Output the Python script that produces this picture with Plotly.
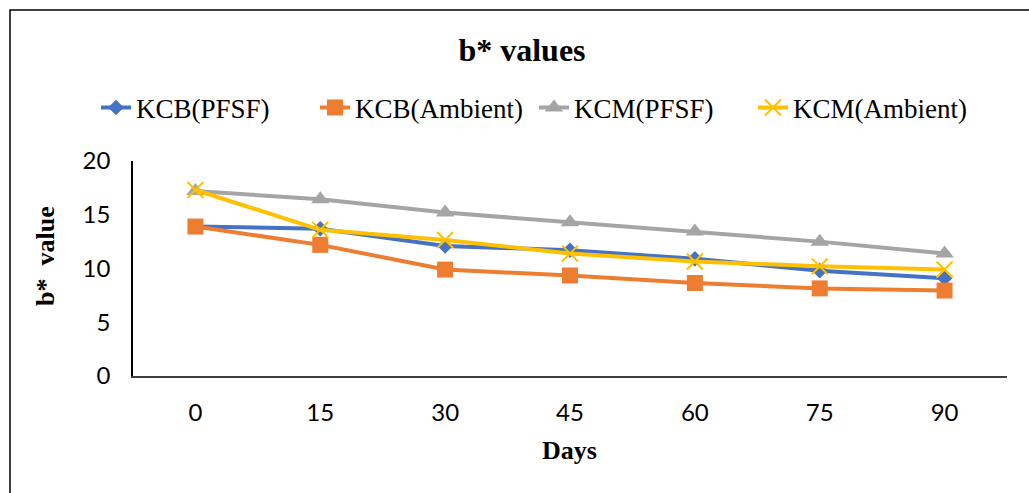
import plotly.graph_objects as go

days = [0, 15, 30, 45, 60, 75, 90]
kcb_pfsf = [13.9, 13.7, 12.1, 11.7, 10.9, 9.8, 9.1]
kcb_ambient = [13.9, 12.2, 9.9, 9.35, 8.65, 8.15, 7.95]
kcm_pfsf = [17.2, 16.45, 15.2, 14.3, 13.45, 12.5, 11.4]
kcm_ambient = [17.3, 13.6, 12.65, 11.4, 10.65, 10.2, 9.9]

series_names = ["KCB(PFSF)", "KCB(Ambient)", "KCM(PFSF)", "KCM(Ambient)"]
colors = ["#4472C4", "#ED7D31", "#A5A5A5", "#FFC000"]

W, H = 1029, 493
L, R, T, B = 133, 22, 161, 117
PW, PH = W - L - R, H - T - B

fig = go.Figure()
fig.add_trace(go.Scatter(x=days, y=kcb_pfsf, name=series_names[0], mode="lines+markers",
                         line=dict(color=colors[0], width=4),
                         marker=dict(symbol="diamond", size=12, color=colors[0])))
fig.add_trace(go.Scatter(x=days, y=kcb_ambient, name=series_names[1], mode="lines+markers",
                         line=dict(color=colors[1], width=4),
                         marker=dict(symbol="square", size=16, color=colors[1])))
fig.add_trace(go.Scatter(x=days, y=kcm_pfsf, name=series_names[2], mode="lines+markers",
                         line=dict(color=colors[2], width=4),
                         marker=dict(symbol="triangle-up", size=16, color=colors[2])))
fig.add_trace(go.Scatter(x=days, y=kcm_ambient, name=series_names[3], mode="lines+markers",
                         line=dict(color=colors[3], width=4),
                         marker=dict(symbol="x-thin-open", size=16, color=colors[3],
                                     line=dict(color=colors[3], width=2))))

tick_font = dict(family="Lato", size=24, color="black")
fig.update_layout(
    width=W, height=H,
    margin=dict(l=L, r=R, t=T, b=B),
    paper_bgcolor="white", plot_bgcolor="white",
    title=dict(text="<b>b* values</b>", x=522 / W, xref="container", xanchor="center",
               y=1 - 50 / H, yref="container", yanchor="middle",
               font=dict(family="Liberation Serif", size=32, color="black")),
    legend=dict(orientation="h", x=(96 - L) / PW, xanchor="left",
                y=(H - B - 108) / PH, yanchor="middle",
                font=dict(family="Liberation Serif", size=27, color="black"),
                entrywidth=174, entrywidthmode="pixels",
                bgcolor="rgba(0,0,0,0)"),
    showlegend=True,
)
fig.update_xaxes(range=[-7.5, 97.5], tickvals=days, ticktext=[str(d) for d in days],
                 showgrid=False, zeroline=False, showline=True, linecolor="#404040", linewidth=1.5,
                 ticks="", tickfont=tick_font, ticklabelstandoff=14)
fig.update_yaxes(range=[0, 20], dtick=5, showgrid=False, zeroline=False, showline=True,
                 linecolor="black", linewidth=1.5, ticks="", tickfont=tick_font, ticklabelstandoff=16)

fig.add_annotation(text="<b>b*  value</b>", textangle=-90, xref="paper", yref="paper",
                   x=(45 - L) / PW, y=(H - B - 256) / PH, xanchor="center", yanchor="middle",
                   showarrow=False, font=dict(family="Liberation Serif", size=26, color="black"))
fig.add_annotation(text="<b>Days</b>", xref="paper", yref="paper",
                   x=(569 - L) / PW, y=(H - B - 450) / PH, xanchor="center", yanchor="middle",
                   showarrow=False, font=dict(family="Liberation Serif", size=26, color="black"))

fig.add_shape(type="rect", xref="paper", yref="paper",
              x0=(10 - L) / PW, x1=(1040 - L) / PW, y0=(H - B - 505) / PH, y1=(H - B - 10) / PH,
              line=dict(color="black", width=1.5), fillcolor="rgba(0,0,0,0)", layer="below")

fig.write_html("out.html")
